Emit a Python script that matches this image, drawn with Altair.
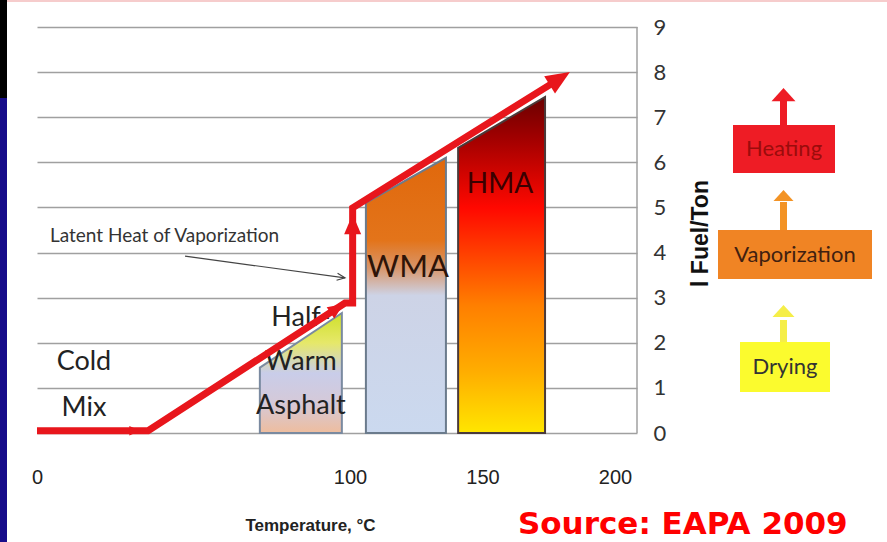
import altair as alt
import pandas as pd

# Fuel needed per ton of mix (l/ton) against production temperature (°C)
curve_temp = [0, 35.5, 98.4, 101.0, 101.0, 179.0]
curve_fuel = [0.05, 0.05, 2.88, 2.88, 4.99, 7.85]

# Arrow tips drawn on the curve
tip_temp = [33.0, 98.0, 101.0, 183.0]
tip_fuel = [0.05, 2.86, 4.85, 8.0]

# Mix families: temperature span and fuel demand at each edge
mix_names = ["Half-Warm Asphalt", "WMA", "HMA"]
mix_temp_lo = [71.2, 106.0, 140.8]
mix_temp_hi = [97.4, 136.2, 173.6]
mix_fuel_lo = [1.45, 5.1, 6.32]
mix_fuel_hi = [2.66, 6.1, 7.45]

# Axis tick labels
temp_ticks = [0, 100, 150, 200]
fuel_ticks = [0, 1, 2, 3, 4, 5, 6, 7, 8, 9]

# Energy stages shown at the side
stage_names = ["Heating", "Vaporization", "Drying"]

# ---------------------------------------------------------------- styles
CAL = "Lato, Open Sans, sans-serif"
NARROW = "Liberation Sans Narrow, Liberation Sans, sans-serif"
RED = "#e8161c"
W, H = 600, 406

x_scale = alt.Scale(domain=[0, 100, 208.3], range=[0, 313, W], nice=False, zero=False)
y_scale = alt.Scale(domain=[0, 9], nice=False, zero=False)

x_axis = alt.Axis(
    values=temp_ticks, title="Temperature, °C", labelFlush=False, ticks=False,
    domain=False, grid=False, labelPadding=34, labelFont=NARROW, labelFontSize=20,
    labelColor="#222", titleFont=NARROW, titleFontWeight="bold", titleFontSize=17,
    titleColor="#222", titleX=273, titleY=92, titleAlign="center",
    titleBaseline="middle",
)
y_axis = alt.Axis(
    orient="right", values=fuel_ticks, grid=True, gridColor="#a0a0a0", gridWidth=1.5,
    domain=False, ticks=False, labelPadding=16, labelFont=CAL, labelFontSize=22,
    labelColor="#333", labelAlign="left", title="l Fuel/Ton", titleFont="Liberation Sans",
    titleFontWeight="bold", titleFontSize=23, titleColor="#111", titleAngle=270,
    titleX=63, titleY=206, titleAlign="center", titleBaseline="middle",
)

one = pd.DataFrame({"k": [0]})


def xf(field):
    return alt.X(field, type="quantitative", scale=x_scale, axis=x_axis)


def yf(field):
    return alt.Y(field, type="quantitative", scale=y_scale, axis=y_axis)


def xd(v):
    return alt.XDatum(v, type="quantitative", scale=x_scale, axis=x_axis)


def yd(v):
    return alt.YDatum(v, type="quantitative", scale=y_scale, axis=y_axis)


layers = []

# Slide frame: side band and thin top line
layers.append(alt.Chart(one).mark_rect(color="#000000").encode(
    x=alt.value(-37), x2=alt.value(-30), y=alt.value(-27), y2=alt.value(71)))
layers.append(alt.Chart(one).mark_rect(color="#170c8a").encode(
    x=alt.value(-37), x2=alt.value(-30), y=alt.value(71), y2=alt.value(H + 109)))
layers.append(alt.Chart(one).mark_rule(color="#f6cccc", strokeWidth=2).encode(
    x=alt.value(-30), x2=alt.value(W + 250), y=alt.value(-26)))

# Right border of the plot
layers.append(alt.Chart(one).mark_rule(color="#a0a0a0", strokeWidth=1.5).encode(
    x=alt.value(W), y=alt.value(0), y2=alt.value(H)))

# Mix family blocks with their gradient fills
gradients = [
    [(0, "#cfe02a"), (0.25, "#e6e86a"), (0.5, "#c9cde9"), (0.75, "#d5c9d8"), (1, "#eebd9e")],
    [(0, "#e0680c"), (0.3, "#e3741a"), (0.4, "#d8956a"), (0.5, "#cdd3e6"), (1, "#cbd9ef")],
    [(0, "#6a0000"), (0.12, "#a00000"), (0.33, "#ff0800"), (0.62, "#ff7f00"),
     (0.82, "#ffae00"), (1, "#ffe600")],
]
strokes = ["#7a8aa0", "#6b7b8c", "#4a3a3a"]
for i, name in enumerate(mix_names):
    block = pd.DataFrame({
        "mix": [name, name],
        "temp": [mix_temp_lo[i], mix_temp_hi[i]],
        "fuel": [mix_fuel_lo[i], mix_fuel_hi[i]],
    })
    fill = alt.Gradient(
        gradient="linear", x1=0, x2=0, y1=0, y2=1,
        stops=[alt.GradientStop(offset=o, color=c) for o, c in gradients[i]],
    )
    layers.append(alt.Chart(block).mark_area(
        color=fill, stroke=strokes[i], strokeWidth=2, opacity=1
    ).encode(
        x=xf("temp"),
        y=yf("fuel"),
        y2=alt.Y2Datum(0),
    ))

# Labels on the chart (anchored at the first line)
layers.append(alt.Chart(one).mark_text(
    text=["Cold", "Mix"], font=CAL, fontSize=27, lineHeight=46, color="#222",
    baseline="middle").encode(x=xd(15.0), y=yd(1.57)))
layers.append(alt.Chart(one).mark_text(
    text=["Half-", "Warm", "Asphalt"], font=CAL, fontSize=27, lineHeight=44,
    color="#222", baseline="middle").encode(x=xd(84.3), y=yd(2.55)))
layers.append(alt.Chart(one).mark_text(
    text="WMA", font=CAL, fontSize=31, color="#2e1408", baseline="middle"
).encode(x=xd(121.9), y=yd(3.66)))
layers.append(alt.Chart(one).mark_text(
    text="HMA", font=CAL, fontSize=28, color="#3a0000", baseline="middle"
).encode(x=xd(156.6), y=yd(5.5)))
layers.append(alt.Chart(one).mark_text(
    text="Latent Heat of Vaporization", font=CAL, fontSize=19, color="#333",
    align="left", baseline="middle").encode(x=xd(4.15), y=yd(4.37)))

# Pointer to the vaporization step
layers.append(alt.Chart(one).mark_rule(color="#444", strokeWidth=1.2).encode(
    x=xd(47.3), y=yd(3.92), x2=alt.X2Datum(98.4), y2=alt.Y2Datum(3.44)))
layers.append(alt.Chart(one).mark_point(
    shape="M-2,-0.9L0,0L-2,0.9", filled=False, color="#444", strokeWidth=1.2,
    size=64, angle=8, opacity=1).encode(x=xd(98.4), y=yd(3.44)))

# Fuel demand curve
curve = pd.DataFrame({"temp": curve_temp, "fuel": curve_fuel,
                      "step": list(range(len(curve_temp)))})
layers.append(alt.Chart(curve).mark_line(
    color=RED, strokeWidth=7, strokeJoin="miter", strokeCap="butt"
).encode(
    x=xf("temp"),
    y=yf("fuel"),
    order="step:Q",
))

# Arrow heads on the curve (angle, size)
tip_style = [(0, 120), (326, 256), (270, 400), (328, 576)]
for (t, f), (ang, sz) in zip(zip(tip_temp, tip_fuel), tip_style):
    layers.append(alt.Chart(one).mark_point(
        shape="M0,0L-2,-0.85L-2,0.85Z", filled=True, color=RED, opacity=1,
        size=sz, angle=ang).encode(x=xd(t), y=yd(f)))

# Stage boxes with arrows
stage_box = [(696, 798, 98, 146), (681, 835, 203, 252), (703, 793, 315, 365)]
stage_fill = ["#ee1c25", "#f08424", "#fbfb2e"]
stage_arrow = ["#ee1c25", "#f39325", "#f5ee48"]
stage_text = ["#9b0c0c", "#402010", "#333333"]
stage_shaft = [(73, 98), (175, 203), (293, 315)]
stage_tip = [(61, 576), (163, 400), (278, 484)]
for i, name in enumerate(stage_names):
    x0, x1, y0, y1 = stage_box[i]
    item = alt.Chart(pd.DataFrame({"stage": [name]}))
    layers.append(item.mark_rect(color=stage_fill[i]).encode(
        x=alt.value(x0), x2=alt.value(x1), y=alt.value(y0), y2=alt.value(y1)))
    layers.append(item.mark_rect(color=stage_arrow[i]).encode(
        x=alt.value(743), x2=alt.value(750),
        y=alt.value(stage_shaft[i][0]), y2=alt.value(stage_shaft[i][1])))
    layers.append(item.mark_point(
        shape="M0,0L1,1.1L-1,1.1Z", filled=True, color=stage_arrow[i], opacity=1,
        size=stage_tip[i][1]).encode(x=alt.value(746.5), y=alt.value(stage_tip[i][0])))
    layers.append(item.mark_text(
        font=CAL, fontSize=22, color=stage_text[i], baseline="middle"
    ).encode(text="stage:N", x=alt.value((x0 + x1) / 2), y=alt.value((y0 + y1) / 2)))

# Source note
layers.append(alt.Chart(one).mark_text(
    text="Source: EAPA 2009", font="DejaVu Sans", fontWeight="bold", fontSize=31,
    color="#ff0000", align="left", baseline="alphabetic"
).encode(x=alt.value(481), y=alt.value(507)))

chart = alt.layer(*layers).properties(
    width=W, height=H,
    padding={"left": 37, "top": 27, "right": 250, "bottom": 109},
    autosize=alt.AutoSizeParams(type="none"),
    background="#ffffff",
).configure_view(stroke=None)

chart.save("out.html", embed_options={"renderer": "svg", "actions": False})
